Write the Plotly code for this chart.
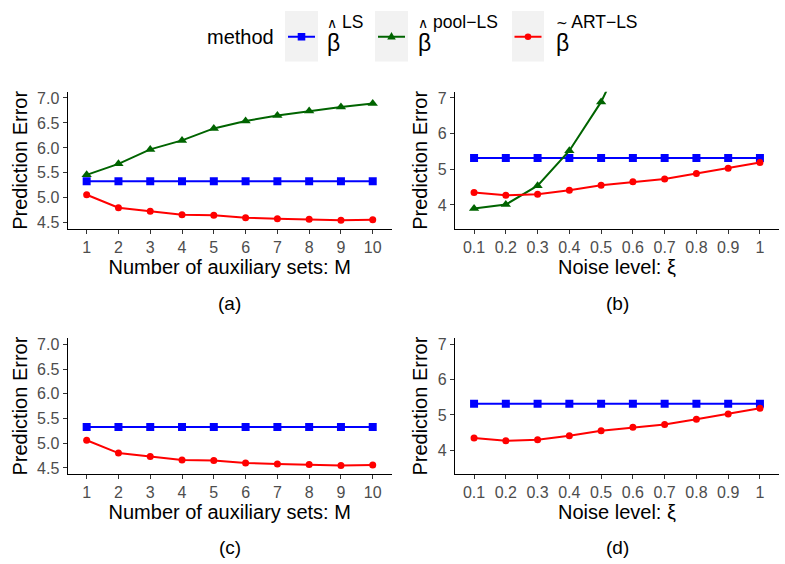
import plotly.graph_objects as go

# ---------------- data ----------------
M = [1, 2, 3, 4, 5, 6, 7, 8, 9, 10]
xi = [0.1, 0.2, 0.3, 0.4, 0.5, 0.6, 0.7, 0.8, 0.9, 1.0]
xi_labels = ["0.1", "0.2", "0.3", "0.4", "0.5", "0.6", "0.7", "0.8", "0.9", "1"]

ls_M = [5.33, 5.33, 5.33, 5.33, 5.33, 5.33, 5.33, 5.33, 5.33, 5.33]
pool_M = [5.46, 5.68, 5.97, 6.15, 6.39, 6.54, 6.65, 6.74, 6.82, 6.89]
art_M = [5.06, 4.80, 4.73, 4.66, 4.65, 4.60, 4.58, 4.57, 4.55, 4.56]

ls_xi = [5.32, 5.32, 5.32, 5.32, 5.32, 5.32, 5.32, 5.32, 5.32, 5.32]
pool_xi = [3.90, 4.01, 4.54, 5.52, 6.89, 8.6, 10.6, 12.8, 15.1, 17.6]
art_xi = [4.35, 4.27, 4.30, 4.41, 4.55, 4.65, 4.73, 4.88, 5.03, 5.19]

M_ticks = ["1", "2", "3", "4", "5", "6", "7", "8", "9", "10"]
yticks_M = [4.5, 5.0, 5.5, 6.0, 6.5, 7.0]
yticks_xi = [4, 5, 6, 7]

method_names = ["beta_hat_LS", "beta_hat_pool_LS", "beta_tilde_ART_LS"]
method_sup = ["LS", "pool\u2212LS", "ART\u2212LS"]
colors = ["#0000FF", "#006400", "#FF0000"]
symbols = ["square", "triangle-up", "circle"]
msizes = [8, 9, 7]

W, H = 785, 564
FONT = "Liberation Sans, Arial, sans-serif"

fig = go.Figure()

panels = [
    ("", M, [ls_M, pool_M, art_M]),
    ("2", xi, [ls_xi, pool_xi, art_xi]),
    ("3", M, [ls_M, None, art_M]),
    ("4", xi, [ls_xi, None, art_xi]),
]

for pi, (suf, xs, series) in enumerate(panels):
    for k, ys in enumerate(series):
        if ys is None:
            continue
        fig.add_trace(go.Scatter(
            x=xs, y=ys, mode="lines+markers",
            name=method_names[k], legendgroup=method_names[k], showlegend=False,
            line=dict(color=colors[k], width=2),
            marker=dict(color=colors[k], symbol=symbols[k], size=msizes[k]),
            xaxis="x" + suf, yaxis="y" + suf,
        ))


def px_x(p):
    return p / W


def px_y(p):
    return 1 - p / H


top_dom = [px_y(228.6), px_y(90.4)]
bot_dom = [px_y(475.5), px_y(338.5)]
left_dom = [px_x(67.6), px_x(391.8)]
right_dom = [px_x(455.0), px_x(779.0)]

axis_common = dict(
    showline=True, linecolor="black", linewidth=1.2, mirror=False,
    ticks="outside", ticklen=4, tickcolor="#333333", tickwidth=1.1,
    showgrid=False, zeroline=False,
    tickfont=dict(family=FONT, size=16, color="#4D4D4D"),
)
xt_font = dict(family=FONT, size=20, color="black")


def xaxis_M(dom, anchor):
    return dict(axis_common, domain=dom, anchor=anchor, range=[0.4, 10.6],
                tickvals=M, ticktext=M_ticks,
                title=dict(text="Number of auxiliary sets: M", font=xt_font, standoff=3))


def xaxis_xi(dom, anchor):
    return dict(axis_common, domain=dom, anchor=anchor, range=[0.04, 1.06],
                tickvals=xi, ticktext=xi_labels,
                title=dict(text="Noise level: ξ", font=xt_font, standoff=3))


def yaxis_M(dom, anchor):
    return dict(axis_common, domain=dom, anchor=anchor, range=[4.375, 7.125],
                tickvals=yticks_M, tickformat=".1f",
                title=dict(text="Prediction Error", font=xt_font, standoff=4))


def yaxis_xi(dom, anchor):
    return dict(axis_common, domain=dom, anchor=anchor, range=[3.325, 7.175],
                tickvals=yticks_xi,
                title=dict(text="Prediction Error", font=xt_font, standoff=4))


fig.update_layout(
    width=W, height=H,
    margin=dict(l=0, r=0, t=0, b=0),
    paper_bgcolor="white", plot_bgcolor="white",
    font=dict(family=FONT, color="black"),
    xaxis=xaxis_M(left_dom, "y"), yaxis=yaxis_M(top_dom, "x"),
    xaxis2=xaxis_xi(right_dom, "y2"), yaxis2=yaxis_xi(top_dom, "x2"),
    xaxis3=xaxis_M(left_dom, "y3"), yaxis3=yaxis_M(bot_dom, "x3"),
    xaxis4=xaxis_xi(right_dom, "y4"), yaxis4=yaxis_xi(bot_dom, "x4"),
    showlegend=False,
)

# ---------------- legend (drawn in paper space) ----------------
def pshape(**kw):
    fig.add_shape(xref="paper", yref="paper", **kw)


fig.add_annotation(text="method", xref="paper", yref="paper",
                   x=px_x(206), y=px_y(35), xanchor="left", yanchor="middle",
                   showarrow=False, borderpad=0,
                   font=dict(family=FONT, size=20, color="black"))

key_boxes = [(285, 318), (375, 408), (512, 544)]
key_cy = 35
for k, (x0, x1) in enumerate(key_boxes):
    pshape(type="rect", x0=px_x(x0), x1=px_x(x1), y0=px_y(60), y1=px_y(9),
           fillcolor="#F2F2F2", line=dict(width=0), layer="below")
    cx = (x0 + x1) / 2
    pshape(type="line", x0=px_x(cx - 13.5), x1=px_x(cx + 13.5),
           y0=px_y(key_cy), y1=px_y(key_cy), line=dict(color=colors[k], width=2))
    if symbols[k] == "square":
        pshape(type="rect", x0=px_x(cx - 3.8), x1=px_x(cx + 3.8),
               y0=px_y(key_cy + 3.8), y1=px_y(key_cy - 3.8),
               fillcolor=colors[k], line=dict(width=0))
    elif symbols[k] == "circle":
        pshape(type="circle", x0=px_x(cx - 3.3), x1=px_x(cx + 3.3),
               y0=px_y(key_cy + 3.3), y1=px_y(key_cy - 3.3),
               fillcolor=colors[k], line=dict(width=0))
    else:
        ty = key_cy - 0.5
        path = "M {} {} L {} {} L {} {} Z".format(
            px_x(cx - 4.3), px_y(ty + 3.2), px_x(cx + 4.3), px_y(ty + 3.2),
            px_x(cx), px_y(ty - 4.2))
        pshape(type="path", path=path, fillcolor=colors[k], line=dict(width=0))

# labels: two-line text, accent + superscript on top line, beta below
HAT = "<span style='font-family:DejaVu Sans;font-size:14px'>\u2227</span>\u00a0"
TILDE = "<span style='font-family:DejaVu Sans;font-size:14px'>~</span>\u2009"
accents = [HAT, HAT, TILDE]
label_x = [325.5, 416.5, 554.5]
for k in range(3):
    txt = accents[k] + method_sup[k] + "<br><span style='font-size:23px'>β</span>"
    fig.add_annotation(text=txt, xref="paper", yref="paper",
                       x=px_x(label_x[k]), y=px_y(31.9), xanchor="left", yanchor="middle",
                       align="left", showarrow=False, borderpad=0,
                       font=dict(family=FONT, size=17.5, color="black"))

for lab, cx, cy in [("(a)", 229.5, 304), ("(b)", 617, 304), ("(c)", 229.5, 549), ("(d)", 617, 549)]:
    fig.add_annotation(text=lab, xref="paper", yref="paper", x=px_x(cx), y=px_y(cy),
                       showarrow=False, xanchor="center", yanchor="middle",
                       font=dict(family=FONT, size=19, color="black"))

fig.write_html("out.html")
